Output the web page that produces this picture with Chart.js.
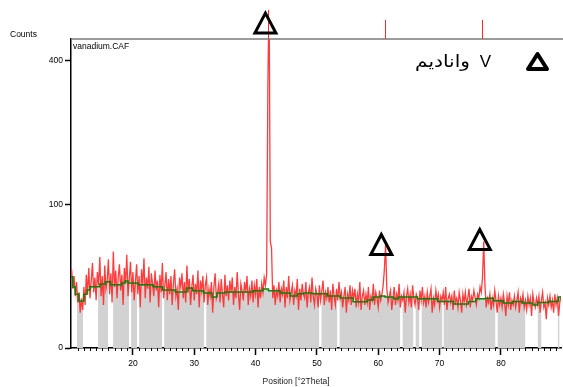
<!DOCTYPE html>
<html>
<head>
<meta charset="utf-8">
<script src="https://cdn.jsdelivr.net/npm/chart.js@4.4.0/dist/chart.umd.min.js"></script>
<style>
  html, body { margin: 0; padding: 0; background: #fff; }
  canvas { display: block; }
</style>
</head>
<body>
<canvas id="xrd" width="563" height="387"></canvas>
<script>
// ========== SCAN DATA (counts every 0.2 deg 2theta) ==========
const scanStart = 10.0;
const scanStep = 0.2;
const counts = [
  30, 17, 25, 13, 21, 10, 15, 6, 12, 7,
  18, 9, 26, 14, 31, 12, 22, 35, 15, 24,
  11, 28, 19, 40, 13, 25, 9, 33, 17, 22,
  38, 14, 27, 10, 45, 18, 29, 12, 24, 34,
  16, 26, 9, 31, 20, 42, 13, 23, 36, 15,
  28, 11, 21, 34, 14, 25, 8, 30, 19, 39,
  12, 24, 17, 32, 10, 27, 20, 13, 29, 16,
  22, 8, 26, 15, 35, 12, 19, 28, 11, 23,
  14, 25, 9, 20, 30, 13, 17, 7, 24, 18,
  27, 12, 21, 10, 33, 15, 23, 9, 18, 26,
  11, 20, 14, 29, 8, 22, 16, 25, 10, 19,
  24, 9, 17, 13, 21, 6, 18, 27, 12, 15,
  20, 10, 23, 14, 8, 26, 13, 19, 11, 22,
  15, 24, 9, 18, 12, 28, 14, 7, 20, 16,
  11, 21, 15, 25, 9, 17, 13, 22, 10, 19,
  14, 23, 8, 18, 12, 20, 15, 24, 19, 26,
  330, 620, 55, 48, 12, 19, 9, 16, 13, 21,
  10, 17, 14, 22, 8, 18, 12, 25, 11, 15,
  19, 9, 16, 13, 23, 7, 17, 11, 20, 14,
  12, 21, 8, 15, 18, 10, 24, 13, 9, 17,
  14, 8, 19, 11, 16, 22, 9, 15, 12, 18,
  10, 16, 7, 20, 13, 9, 17, 11, 21, 12,
  15, 8, 13, 18, 6, 14, 11, 19, 9, 16,
  12, 17, 8, 14, 10, 21, 7, 13, 16, 9,
  14, 10, 18, 7, 13, 11, 20, 9, 15, 12,
  8, 16, 11, 14, 19, 30, 52, 17, 10, 13,
  16, 7, 12, 18, 9, 14, 11, 20, 8, 13,
  11, 15, 6, 13, 17, 10, 14, 8, 19, 12,
  9, 14, 12, 7, 16, 11, 18, 10, 13, 8,
  15, 10, 13, 17, 6, 12, 9, 16, 11, 14,
  8, 13, 11, 15, 9, 18, 7, 12, 14, 10,
  13, 7, 16, 10, 12, 8, 15, 11, 6, 14,
  10, 15, 9, 12, 17, 8, 13, 11, 16, 12,
  9, 14, 12, 18, 15, 24, 55, 19, 8, 12,
  10, 14, 7, 12, 9, 16, 11, 6, 13, 9,
  12, 8, 14, 10, 5, 13, 9, 15, 7, 11,
  9, 13, 8, 11, 15, 6, 12, 10, 14, 8,
  11, 7, 13, 9, 12, 5, 14, 10, 8, 12,
  9, 13, 6, 11, 15, 8, 10, 4, 12, 9,
  13, 8, 11, 6, 14, 9, 12, 5, 10, 13
];

// background (stepped) - level starts at each angle
const bgAngles = [9.9, 10.2, 10.6, 11.2, 12.0, 12.5, 13.0, 14.6, 15.5, 16.3, 18.2, 18.7, 19.2, 20.8,
  23.3, 24.8, 26.9, 28.8, 29.7, 31.5, 32.9, 33.7, 35.0, 39.6, 41.2, 42.1, 44.0, 45.7, 46.8, 47.8,
  49.2, 51.7, 53.8, 55.9, 58.2, 59.2, 60.3, 61.1, 62.5, 63.3, 66.4, 69.7, 72.3, 74.7, 75.9, 77.5,
  78.8, 80.4, 81.9, 83.5, 85.2, 86.0, 87.8, 89.4, 89.8];
const bgCounts = [24.5, 18, 14, 10.7, 14, 16.3, 18.1, 19.9, 21.2, 19.3, 20.5, 21.8, 20.5, 19.3,
  18.1, 16.3, 15.2, 17.5, 15.8, 14.7, 12.6, 14.7, 15.2, 15.8, 16.9, 15.8, 14.7, 13.1, 14.2, 14.7,
  14.2, 13.1, 12.1, 10.3, 11.2, 12.6, 13.1, 12.6, 11.7, 12.6, 11.7, 10.5, 9.4, 10.5, 11.7, 12.0,
  10.8, 9.8, 10.5, 9.8, 9.0, 10.0, 10.5, 12.6, 12.6];

// gray filled ranges (deg)
const fillRanges = [[10.88, 11.86], [14.31, 15.94], [16.76, 19.37], [19.7, 20.68], [21.0, 24.76],
  [25.08, 31.61], [31.94, 50.39], [50.72, 53.33], [53.66, 63.61], [63.94, 65.74], [66.06, 66.72],
  [67.04, 70.47], [70.63, 79.12], [79.45, 84.0], [85.98, 86.63], [89.25, 89.57], [89.9, 90.2]];

// reference pattern sticks
const refAngles = [42.1, 61.05, 76.95];
const refIntensity = [100, 66, 66];

// phase markers (triangles)
const markerAngles = [41.6, 60.5, 76.55];
const markerCounts = [480, 42.3, 47];

const xTicks = [20, 30, 40, 50, 60, 70, 80];
const yTicks = [0, 100, 400];

// ========== BUILD DATASETS ==========
const scanPoints = counts.map((c, i) => ({ x: scanStart + i * scanStep, y: Math.sqrt(c) }));
const bgPoints = bgAngles.map((a, i) => ({ x: a, y: Math.sqrt(bgCounts[i]) }));

function bgAt(a) {
  let v = bgCounts[0];
  bgAngles.forEach((t, i) => { if (t <= a) v = bgCounts[i]; });
  return v;
}

const grayPoints = [];
fillRanges.forEach(([a, b]) => {
  grayPoints.push({ x: a, y: Math.sqrt(bgAt(a)) });
  bgAngles.forEach((t) => {
    if (t > a && t < b) grayPoints.push({ x: t, y: Math.sqrt(bgAt(t)) });
  });
  grayPoints.push({ x: b, y: Math.sqrt(bgAt(b)) });
  grayPoints.push({ x: b, y: null });
});

// ========== OVERLAY (frame, minor ticks, sticks, markers, texts) ==========
function triangle(ctx, cx, baseY, halfW, h, lw, join) {
  ctx.beginPath();
  ctx.moveTo(cx, baseY - h);
  ctx.lineTo(cx + halfW, baseY);
  ctx.lineTo(cx - halfW, baseY);
  ctx.closePath();
  ctx.lineWidth = lw;
  ctx.lineJoin = join;
  ctx.strokeStyle = "#000";
  ctx.stroke();
}

const overlay = {
  id: "overlay",
  afterDraw(chart) {
    const { ctx, chartArea: area, scales } = chart;
    const x = scales.x, y = scales.y;
    ctx.save();

    // top frame line
    ctx.strokeStyle = "#7a7a7a";
    ctx.lineWidth = 1.5;
    ctx.beginPath();
    ctx.moveTo(area.left, area.top);
    ctx.lineTo(chart.width, area.top);
    ctx.stroke();

    // minor ticks every degree
    ctx.strokeStyle = "#000";
    ctx.lineWidth = 1;
    for (let d = 10; d <= 89; d++) {
      if (d % 10 === 0) continue;
      const px = Math.round(x.getPixelForValue(d)) + 0.5;
      ctx.beginPath();
      ctx.moveTo(px, area.bottom);
      ctx.lineTo(px, area.bottom + 3);
      ctx.stroke();
    }

    // reference sticks above the frame
    ctx.strokeStyle = "#ff2a2a";
    ctx.lineWidth = 1;
    refAngles.forEach((a, i) => {
      const px = Math.round(x.getPixelForValue(a)) + 0.5;
      ctx.beginPath();
      ctx.moveTo(px, area.top);
      ctx.lineTo(px, area.top - 29 * refIntensity[i] / 100);
      ctx.stroke();
    });

    // peak markers
    markerAngles.forEach((a, i) => {
      triangle(ctx, x.getPixelForValue(a), y.getPixelForValue(Math.sqrt(markerCounts[i])), 10.5, 20, 3, "miter");
    });

    // legend symbol
    triangle(ctx, area.right - 23.5, area.top + 30, 9.5, 15, 4, "round");

    // texts
    ctx.fillStyle = "#000";
    ctx.textBaseline = "alphabetic";
    ctx.font = '8.5px Arial, "Liberation Sans", sans-serif';
    ctx.textAlign = "left";
    ctx.fillText("Counts", 10, 37);
    ctx.fillText("vanadium.CAF", area.left + 2, area.top + 10);
    ctx.fillStyle = "#222";
    ctx.fillText("Position [\u00b02Theta]", 262.5, 383.5);

    // legend label: "V" then the Arabic name to its left
    ctx.fillStyle = "#000";
    ctx.textAlign = "right";
    ctx.font = '17px Arial, "Liberation Sans", sans-serif';
    ctx.fillText("V", area.right - 70, area.top + 27.5);
    ctx.font = '17px "DejaVu Sans", sans-serif';
    const word = "وانادیم";
    const w = ctx.measureText(word).width;
    ctx.save();
    ctx.translate(area.right - 91, area.top + 28);
    ctx.scale(55 / w, 1);
    ctx.fillText(word, 0, 0);
    ctx.restore();

    ctx.restore();
  }
};

// ========== CHART ==========
Chart.defaults.font.family = 'Arial, "Liberation Sans", sans-serif';
Chart.defaults.font.size = 8.5;
Chart.defaults.color = "#000";

new Chart(document.getElementById("xrd"), {
  type: "line",
  data: {
    datasets: [
      {
        label: "background",
        data: bgPoints,
        borderColor: "#0a820a",
        borderWidth: 1.5,
        stepped: true,
        pointRadius: 0,
        fill: false,
        order: 0
      },
      {
        label: "scan",
        data: scanPoints,
        borderColor: "rgba(255, 45, 45, 0.92)",
        borderWidth: 1.3,
        pointRadius: 0,
        tension: 0,
        fill: false,
        order: 1
      },
      {
        label: "fill",
        data: grayPoints,
        borderWidth: 0,
        borderColor: "rgba(0,0,0,0)",
        backgroundColor: "#d2d2d2",
        stepped: true,
        pointRadius: 0,
        spanGaps: false,
        fill: "origin",
        order: 2
      }
    ]
  },
  options: {
    responsive: false,
    animation: false,
    devicePixelRatio: 1,
    layout: { padding: { top: 39, right: 2, left: 0, bottom: 0 } },
    plugins: {
      legend: { display: false },
      tooltip: { enabled: false },
      filler: { propagate: false }
    },
    scales: {
      x: {
        type: "linear",
        min: 9.9,
        max: 89.8,
        afterBuildTicks: (s) => { s.ticks = xTicks.map((v) => ({ value: v })); },
        afterFit: (s) => { s.height = 39; },
        ticks: { padding: 4, maxRotation: 0, autoSkip: false, color: "#000" },
        grid: { drawOnChartArea: false, drawTicks: true, tickLength: 7, color: "#000", tickWidth: 1.5 },
        border: { display: true, color: "#000", width: 1.5 }
      },
      y: {
        type: "linear",
        min: 0,
        max: 21.5,
        afterBuildTicks: (s) => { s.ticks = yTicks.map((v) => ({ value: Math.sqrt(v) })); },
        afterFit: (s) => { s.width = 71; },
        ticks: { padding: 2, color: "#000", callback: (v) => Math.round(v * v) },
        grid: { drawOnChartArea: false, drawTicks: true, tickLength: 6, color: "#000", tickWidth: 1.5 },
        border: { display: true, color: "#000", width: 1.5 }
      }
    }
  },
  plugins: [overlay]
});
</script>
</body>
</html>
